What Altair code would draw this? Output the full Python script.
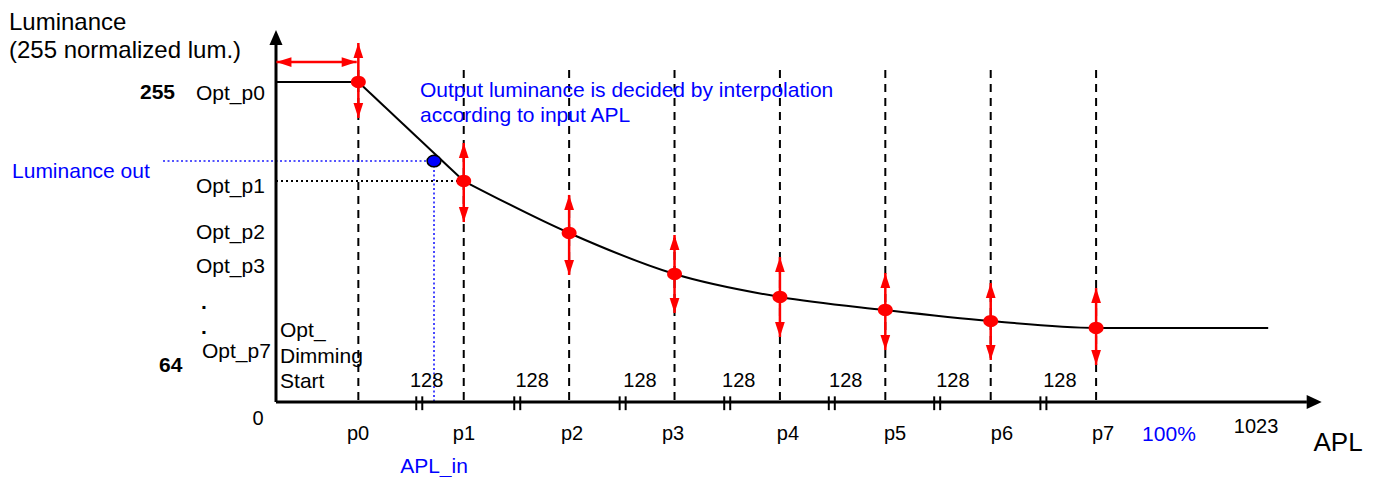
import altair as alt
import pandas as pd

# ---------------- data (APL units on x, normalized luminance on y) ----------------
point_names = ["p0", "p1", "p2", "p3", "p4", "p5", "p6", "p7"]
point_apl = [100, 228, 356, 484, 612, 740, 868, 996]
point_lum = [255, 176.1, 134.7, 102.0, 83.7, 73.3, 64.5, 59.0]
arrow_top = [286.1, 206.4, 165.0, 133.1, 115.5, 102.8, 94.8, 90.8]
arrow_bottom = [226.3, 143.4, 101.2, 70.9, 51.8, 41.4, 33.5, 29.5]
tail_apl = 1205
dash_top = 264.6
hold_arrow_lum = 270.9
hold_arrow_apl = [0.5, 98]

apl_in = 191.9
lum_out = 192.0
lum_out_left = -137.2

axis_x_end = 1252
axis_x_tip = 1270
axis_y_end = 284.5
axis_y_tip = 296.4

break_apl = [174, 293, 421, 548, 675, 803, 932]
seg_label_apl = [183, 311, 442, 562, 692, 822, 952]
seg_label_text = ["128"] * 7
seg_label_lum = 12.0
p_label_apl = [99.6, 228.3, 359.5, 482.2, 621.8, 751.8, 881.7, 1004.4]
p_label_lum = -30.3

X_DOMAIN = [-325.48, 1326.21]
Y_DOMAIN = [-59.77, 313.97]
FONT = "Liberation Sans"

xs = alt.Scale(domain=X_DOMAIN, nice=False, zero=False)
ys = alt.Scale(domain=Y_DOMAIN, nice=False, zero=False)


def X(f="x"):
    return alt.X(f"{f}:Q", scale=xs, axis=None)


def Y(f="y"):
    return alt.Y(f"{f}:Q", scale=ys, axis=None)


def seg_df(rows):
    return pd.DataFrame(rows, columns=["x", "y", "x2", "y2"])


def segs(rows, color, width, dash=None):
    kw = dict(color=color, strokeWidth=width)
    if dash:
        kw["strokeDash"] = dash
    return alt.Chart(seg_df(rows)).mark_rule(**kw).encode(
        x=X("x"), y=Y("y"), x2="x2:Q", y2="y2:Q"
    )


# dashed verticals at p0..p7
dashed = segs([[a, dash_top, a, 0] for a in point_apl], "black", 2, [8, 6])

# level segment + curve
level = segs([[0, point_lum[0], point_apl[0], point_lum[0]]], "black", 2)
first_seg = alt.Chart(pd.DataFrame({"x": point_apl[:2], "y": point_lum[:2]})).mark_line(
    color="black", strokeWidth=2
).encode(x=X(), y=Y(), order="x:Q")
curve = alt.Chart(
    pd.DataFrame({"x": point_apl[1:] + [tail_apl], "y": point_lum[1:] + [point_lum[-1]]})
).mark_line(color="black", strokeWidth=2, interpolate="monotone").encode(
    x=X(), y=Y(), order="x:Q"
)

# dotted guides
black_dot = segs([[0, point_lum[1], point_apl[1], point_lum[1]]], "black", 2, [2, 3])
blue_dot_lines = segs(
    [[lum_out_left, lum_out, apl_in, lum_out], [apl_in, lum_out, apl_in, 0]],
    "#1a1aff", 1.6, [2, 2.5],
)

# axes
axes = segs([[0, 0, 0, axis_y_end], [0, 0, axis_x_end, 0]], "black", 3)
UP = "M0,0L0.87,2L-0.87,2Z"
RIGHT = "M0,0L-2,-0.93L-2,0.93Z"
axis_heads = alt.layer(
    alt.Chart(pd.DataFrame({"x": [0], "y": [axis_y_tip]})).mark_point(
        shape=UP, filled=True, color="black", size=225, opacity=1
    ).encode(x=X(), y=Y()),
    alt.Chart(pd.DataFrame({"x": [axis_x_tip], "y": [0]})).mark_point(
        shape=RIGHT, filled=True, color="black", size=225, opacity=1
    ).encode(x=X(), y=Y()),
)

# axis breaks "||"
bdf = pd.DataFrame({"x": break_apl})
breaks = alt.layer(
    *[
        alt.Chart(bdf).mark_rule(color="black", strokeWidth=2, xOffset=off).encode(
            x=X(), y=alt.Y("datum_lo:Q", scale=ys, axis=None), y2="datum_hi:Q"
        ).transform_calculate(datum_lo="4.5", datum_hi="-6.5")
        for off in (-3, 3)
    ]
)

# red adjust arrows
RED = "#ff0000"
adf = pd.DataFrame({"x": point_apl, "top": arrow_top, "bot": arrow_bottom, "y": point_lum})
red_shafts = alt.Chart(adf).mark_rule(color=RED, strokeWidth=2.5).encode(
    x=X(), y=Y("bot"), y2="top:Q"
)
R_UP = "M0,0L0.65,2L-0.65,2Z"
R_DOWN = "M0,0L0.65,-2L-0.65,-2Z"
R_LEFT = "M0,0L2,-0.65L2,0.65Z"
R_RIGHT = "M0,0L-2,-0.65L-2,0.65Z"
red_heads = alt.layer(
    alt.Chart(adf).mark_point(shape=R_UP, filled=True, color=RED, size=225, opacity=1).encode(
        x=X(), y=Y("top")
    ),
    alt.Chart(adf).mark_point(shape=R_DOWN, filled=True, color=RED, size=225, opacity=1).encode(
        x=X(), y=Y("bot")
    ),
)
hold = segs([[hold_arrow_apl[0], hold_arrow_lum, hold_arrow_apl[1], hold_arrow_lum]], RED, 2.5)
hold_heads = alt.layer(
    alt.Chart(pd.DataFrame({"x": [hold_arrow_apl[0]], "y": [hold_arrow_lum]})).mark_point(
        shape=R_LEFT, filled=True, color=RED, size=225, opacity=1
    ).encode(x=X(), y=Y()),
    alt.Chart(pd.DataFrame({"x": [hold_arrow_apl[1]], "y": [hold_arrow_lum]})).mark_point(
        shape=R_RIGHT, filled=True, color=RED, size=225, opacity=1
    ).encode(x=X(), y=Y()),
)
ELLIPSE = "M-1.15,0A1.15,0.95,0,1,0,1.15,0A1.15,0.95,0,1,0,-1.15,0Z"
red_points = alt.Chart(adf).mark_point(
    shape=ELLIPSE, filled=True, color=RED, size=169, opacity=1
).encode(x=X(), y=Y())

blue_point = alt.Chart(pd.DataFrame({"x": [apl_in], "y": [lum_out]})).mark_point(
    shape=ELLIPSE, filled=True, fill="#0000ff", stroke="black", strokeWidth=1.5,
    size=144, opacity=1
).encode(x=X(), y=Y())


# ---------------- text ----------------
def texts(rows, align="left", size=21, weight="normal", color="black"):
    df = pd.DataFrame(rows, columns=["t", "x", "y"])
    return alt.Chart(df).mark_text(
        align=align, baseline="alphabetic", font=FONT, fontSize=size,
        fontWeight=weight, color=color,
    ).encode(x=X(), y=Y(), text="t:N")


title_txt = texts(
    [["Luminance", -324.3, 296.4], ["(255 normalized lum.)", -324.3, 274.1]], size=24
)
left_txt = texts(
    [
        ["Opt_p0", -97.2, 240.7],
        ["Opt_p1", -97.2, 166.5],
        ["Opt_p2", -97.2, 129.9],
        ["Opt_p3", -97.2, 102.8],
        ["Opt_p7", -89.9, 35.1],
        ["Opt_", 4.9, 51.8],
        ["Dimming", 4.9, 31.1],
        ["Start", 4.9, 11.2],
    ]
)
dots_txt = texts([[".", -87.4, 74.1], [".", -87.4, 54.2]], align="center", weight="bold")
bold_txt = texts([["255", -165.2, 241.5], ["64", -142.1, 23.9]], weight="bold")
blue_left = texts(
    [
        ["Luminance out", -320.6, 178.5],
        ["Output luminance is decided by interpolation", 174.9, 243.0],
        ["according to input APL", 174.9, 223.1],
    ],
    color="#0000ff",
)
center_txt = texts(
    [["0", -21.9, -18.3], ["1023", 1190.2, -24.7]]
    + [[t, a, seg_label_lum] for t, a in zip(seg_label_text, seg_label_apl)]
    + [[n, a, p_label_lum] for n, a in zip(point_names, p_label_apl)],
    align="center",
    size=20,
)
blue_center = texts(
    [["APL_in", apl_in, -56.6], ["100%", 1084.5, -31.1]], align="center", color="#0000ff"
)
apl_txt = texts([["APL", 1289.8, -39.0]], align="center", size=26)

chart = alt.layer(
    dashed,
    black_dot,
    blue_dot_lines,
    level,
    first_seg,
    curve,
    axes,
    axis_heads,
    breaks,
    red_shafts,
    red_heads,
    hold,
    hold_heads,
    red_points,
    blue_point,
    title_txt,
    left_txt,
    dots_txt,
    bold_txt,
    blue_left,
    center_txt,
    blue_center,
    apl_txt,
).properties(
    width=1360, height=469, padding=0, autosize=alt.AutoSizeParams(type="none"),
    background="white",
).configure_view(stroke=None)

chart.save("out.html", embed_options={"renderer": "svg", "actions": False})
